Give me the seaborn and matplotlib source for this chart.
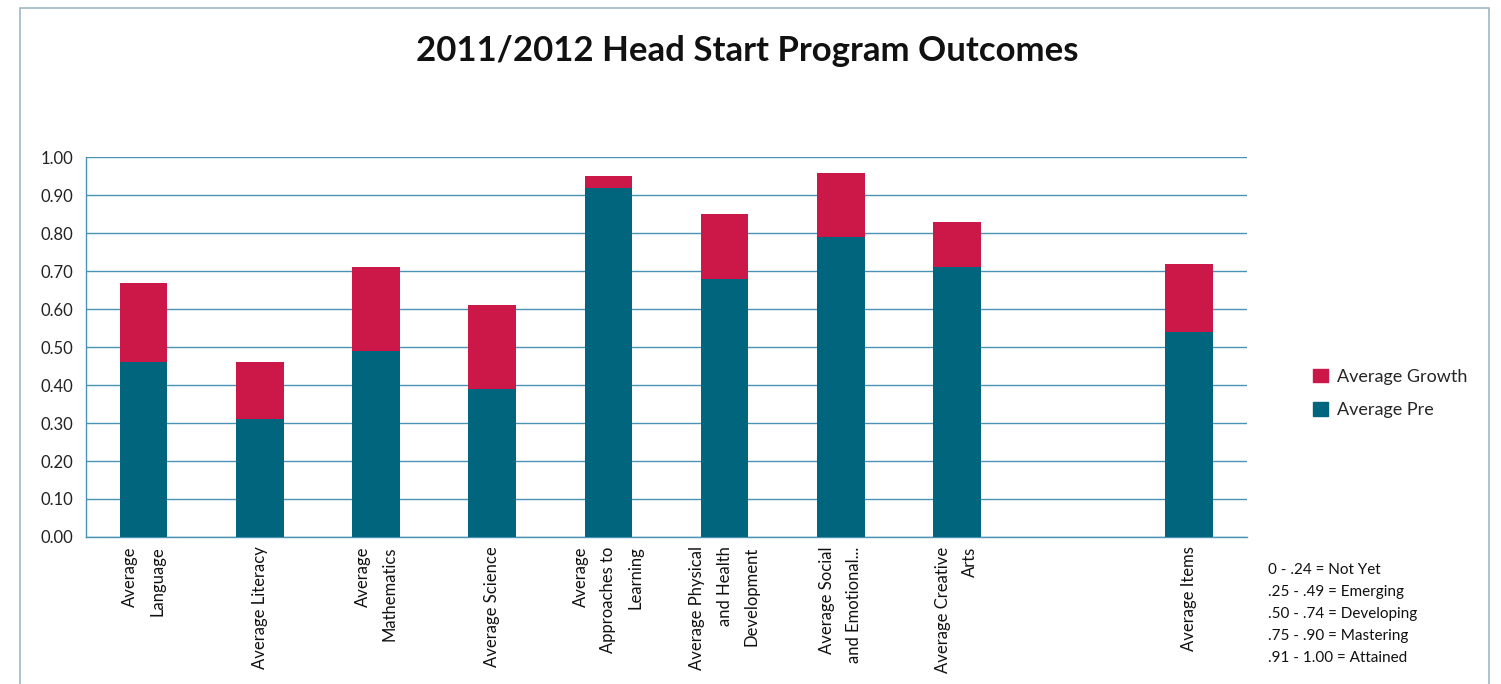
import numpy as np
import pandas as pd
import seaborn as sns
import matplotlib.pyplot as plt
from matplotlib.patches import Rectangle, Patch

categories = ["Average\nLanguage", "Average Literacy", "Average\nMathematics",
              "Average Science", "Average\nApproaches to\nLearning",
              "Average Physical\nand Health\nDevelopment",
              "Average Social\nand Emotional...", "Average Creative\nArts",
              " ", "Average Items"]
# bars (the blank slot has no data)
bar_cats = [c for c in categories if c != " "]
avg_pre = [0.46, 0.31, 0.49, 0.39, 0.92, 0.68, 0.79, 0.71, 0.54]
avg_growth = [0.21, 0.15, 0.22, 0.22, 0.03, 0.17, 0.17, 0.12, 0.18]
yticks = [0.0, 0.1, 0.2, 0.3, 0.4, 0.5, 0.6, 0.7, 0.8, 0.9, 1.0]
scale_text = ["0 - .24 = Not Yet", ".25 - .49 = Emerging", ".50 - .74 = Developing",
              ".75 - .90 = Mastering", ".91 - 1.00 = Attained"]

pre_col = "#00657d"
growth_col = "#cc1848"
grid_col = "#4a93b3"

df = pd.DataFrame({"cat": bar_cats, "pre": avg_pre,
                   "total": np.array(avg_pre) + np.array(avg_growth)})

sns.set_style("white")
plt.rcParams["font.family"] = ["Lato", "DejaVu Sans"]

fig = plt.figure(figsize=(15.01, 6.84), dpi=100)
ax = fig.add_axes([0.057, 0.215, 0.774, 0.555])

sns.barplot(data=df, x="cat", y="total", order=categories, color=growth_col,
            width=0.41, saturation=1, linewidth=0, ax=ax, zorder=3)
sns.barplot(data=df, x="cat", y="pre", order=categories, color=pre_col,
            width=0.41, saturation=1, linewidth=0, ax=ax, zorder=4)

ax.set_xlim(-0.5, len(categories) - 0.5)
ax.set_ylim(0, 1.0)
ax.set_yticks(yticks)
ax.set_yticklabels([f"{v:.2f}" for v in yticks], fontsize=12, color="#222222")
ax.yaxis.grid(True, color=grid_col, linewidth=1, zorder=0)
ax.set_axisbelow(True)
ax.set_xlabel("")
ax.set_ylabel("")

# category labels, ticks on the boundaries
ax.set_xticks(range(len(categories)))
ax.set_xticklabels([])
ax.tick_params(axis="x", which="major", length=0)
ax.set_xticks(np.arange(-0.5, len(categories), 1), minor=True)
ax.tick_params(axis="x", which="minor", length=5, color=grid_col, direction="out")
ax.tick_params(axis="y", length=5, color=grid_col, direction="out", pad=4)
for i, c in enumerate(categories):
    ax.text(i, -0.025, c, rotation=90, ha="center", va="top", multialignment="right",
            fontsize=12, linespacing=1.85, color="#111111",
            transform=ax.get_xaxis_transform())

for s in ["top", "right"]:
    ax.spines[s].set_visible(False)
for s in ["left", "bottom"]:
    ax.spines[s].set_color(grid_col)
    ax.spines[s].set_linewidth(1)

fig.text(0.498, 0.925, "2011/2012 Head Start Program Outcomes", ha="center",
         va="center", fontsize=25, fontweight="bold", color="#111111")

handles = [Patch(color=growth_col, label="Average Growth"),
           Patch(color=pre_col, label="Average Pre")]
fig.legend(handles=handles, loc="center left", bbox_to_anchor=(0.864, 0.425),
           frameon=False, fontsize=13, handlelength=0.8, handleheight=0.8,
           handletextpad=0.5, labelspacing=0.95)

for k, t in enumerate(scale_text):
    fig.text(0.845, 1 - (570 + 22 * k) / 684, t, ha="left", va="center",
             fontsize=11, color="#111111")

fig.patches.append(Rectangle((0.013, -0.02), 0.979, 1.008, transform=fig.transFigure,
                             fill=False, edgecolor="#9db7c7", linewidth=1.2))

fig.savefig("out.png", dpi=100)
